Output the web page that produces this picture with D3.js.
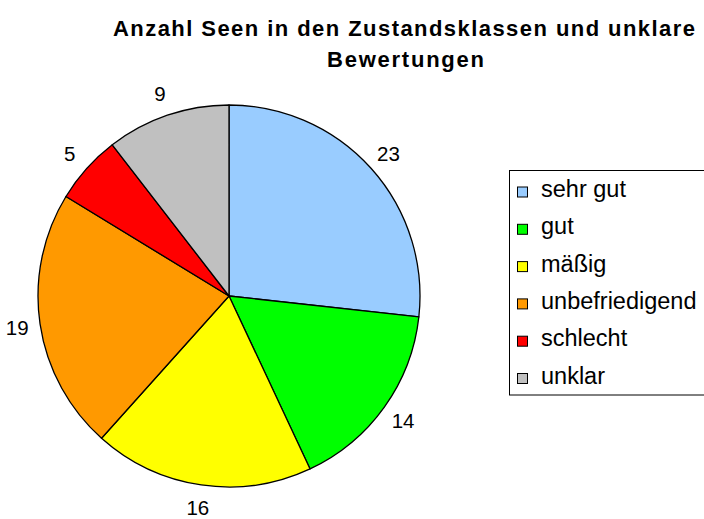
<!DOCTYPE html>
<html>
<head>
<meta charset="utf-8">
<script src="https://cdn.jsdelivr.net/npm/d3@7"></script>
<style>
  html, body { margin: 0; padding: 0; background: #fff; }
  svg { display: block; font-family: "Liberation Sans", Arial, sans-serif; }
</style>
</head>
<body>
<svg id="chart" width="704" height="519"></svg>
<script>
// Anzahl Seen je Zustandsklasse
const categories = ["sehr gut", "gut", "mäßig", "unbefriedigend", "schlecht", "unklar"];
const counts = [23, 14, 16, 19, 5, 9];
const colors = ["#99CCFF", "#00FF00", "#FFFF00", "#FF9900", "#FF0000", "#C0C0C0"];
const titleLines = ["Anzahl Seen in den Zustandsklassen und unklare", "Bewertungen"];

const svg = d3.select("#chart");
const cx = 229, cy = 296, radius = 191, labelRadius = 214;

// Two-line bold title with wide letter spacing
const titleSpec = [
  { text: titleLines[0], x: 404, y: 36, width: 582 },
  { text: titleLines[1], x: 405.5, y: 67, width: 157 }
];
svg.append("g").selectAll("text")
  .data(titleSpec)
  .join("text")
  .attr("x", d => d.x).attr("y", d => d.y)
  .attr("text-anchor", "middle")
  .attr("font-size", 22).attr("font-weight", "bold")
  .attr("textLength", d => d.width)
  .attr("lengthAdjust", "spacing")
  .text(d => d.text);

// Pie
const pie = d3.pie().sort(null).value(d => d)(counts);
const arc = d3.arc().innerRadius(0).outerRadius(radius);
const labelArc = d3.arc().innerRadius(labelRadius).outerRadius(labelRadius);

const g = svg.append("g").attr("transform", `translate(${cx},${cy})`);
g.selectAll("path.slice")
  .data(pie)
  .join("path")
  .attr("class", "slice")
  .attr("d", arc)
  .attr("fill", (d, i) => colors[i])
  .attr("stroke", "#000")
  .attr("stroke-width", 1.3)
  .attr("stroke-linejoin", "round");

g.selectAll("text.value")
  .data(pie)
  .join("text")
  .attr("class", "value")
  .attr("transform", d => `translate(${labelArc.centroid(d)})`)
  .attr("text-anchor", "middle")
  .attr("dy", "0.36em")
  .attr("font-size", 20.5)
  .attr("fill", "#000")
  .text(d => d.data);

// Legend
const legend = svg.append("g");
legend.append("rect")
  .attr("x", 509.5).attr("y", 170.5)
  .attr("width", 220).attr("height", 224.5)
  .attr("fill", "#fff").attr("stroke", "#000").attr("stroke-width", 1);

const rowY = d3.scalePoint().domain(categories).range([192, 378.5]);
const items = legend.selectAll("g.item")
  .data(categories)
  .join("g")
  .attr("class", "item")
  .attr("transform", d => `translate(0,${rowY(d)})`);
items.append("rect")
  .attr("x", 517.5).attr("y", -5)
  .attr("width", 10).attr("height", 10)
  .attr("fill", (d, i) => colors[i])
  .attr("stroke", "#000").attr("stroke-width", 1);
items.append("text")
  .attr("x", 541).attr("y", 5)
  .attr("font-size", 23.5)
  .text(d => d);
</script>
</body>
</html>
